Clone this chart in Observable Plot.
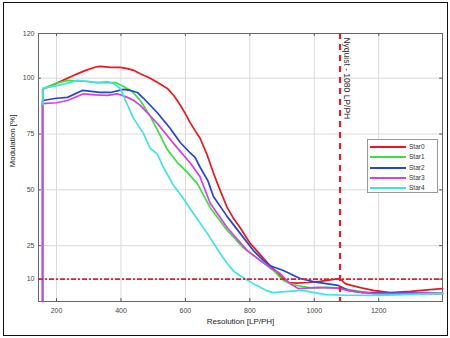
<!DOCTYPE html>
<html><head><meta charset="utf-8">
<script src="https://cdn.jsdelivr.net/npm/d3@7"></script>
<script src="https://cdn.jsdelivr.net/npm/@observablehq/plot@0.6"></script>
<style>
body{margin:0;background:#fff;font-family:"Liberation Sans",Arial,sans-serif;}
#wrap{position:relative;width:450px;height:338px;overflow:hidden;}
#border{position:absolute;left:3px;top:2px;width:445px;height:334px;border:1.6px solid #111;box-sizing:border-box;pointer-events:none;}
#legend{position:absolute;left:367px;top:139px;width:71px;height:54px;border:1px solid #999;background:#fff;box-sizing:border-box;font-size:6.5px;color:#333;}
#legend .row{position:absolute;left:0;height:10px;width:100%;}
#legend .ln{position:absolute;left:2px;width:36px;top:4px;height:2.2px;}
#legend .tx{position:absolute;left:41px;top:0;line-height:10px;}
</style></head><body>
<div id="wrap"><div id="chart"></div><div id="border"></div><div id="legend"></div></div>
<script>
const seriesNames = ["Star0", "Star1", "Star2", "Star3", "Star4"];
const seriesColors = ["#e8191e", "#3ee03e", "#2346d0", "#d93ee0", "#3ee6e0"];

const star0 = [[157,88],[157,95],[181,96.5],[220,99],[259,101.6],[290,103.5],[321,105],[336,105.3],[367,104.8],[398,104.8],[420,104.3],[439,103.5],[460,102],[491,100],[520,97.5],[544,95.4],[565,92],[584,88],[600,84],[615,80],[630,76.5],[646,73],[668,65.4],[687,57.5],[710,49],[730,42],[750,37],[770,33],[801,26],[832,21],[863,16],[879,13.9],[900,10.5],[919,8.5],[947,8.2],[980,8.5],[1018,9],[1060,9.9],[1080,10.2],[1096,8],[1121,7],[1150,6],[1183,5],[1235,4],[1300,4.5],[1350,5.2],[1398,5.8]];
const star1 = [[158,88],[158,95.4],[197,97.6],[234,99],[296,98.5],[330,98],[358,98],[383,98],[408,96.3],[435,94],[460,90],[491,83],[522,74.3],[544,68],[575,62.2],[606,57.8],[637,52.8],[677,42],[730,31.8],[780,24],[832,18.4],[873,13.9],[904,9.4],[935,7.5],[994,6],[1040,6.3],[1080,6],[1130,4.8],[1183,3.5],[1250,3.2],[1398,3.6]];
const star2 = [[157,0],[157,90],[200,91],[234,91.4],[280,94.5],[336,93.6],[367,93.6],[408,95],[430,94.5],[451,93.6],[470,91],[513,84.5],[553,77.5],[584,71.2],[615,66.5],[630,64.5],[646,60],[670,54],[687,47],[730,38],[770,30.5],[811,22.8],[842,18.4],[863,16],[904,13.9],[956,10.3],[1000,8.8],[1074,7.2],[1105,5],[1150,4],[1198,4],[1398,3.6]];
const star3 = [[156,0],[156,88.6],[200,89],[234,90],[284,93],[320,92.5],[358,92.3],[389,93],[420,91.4],[440,90],[460,87.8],[513,79.7],[563,70.8],[615,62],[645,56],[677,44],[730,33],[792,22.8],[832,18.4],[870,14.5],[894,12.5],[925,8],[950,5.8],[1009,6.3],[1071,6],[1120,4.5],[1183,3.6],[1398,3.6]];
const star4 = [[158,88],[158,95.4],[212,97],[265,99],[327,98],[358,98.5],[377,97.6],[398,95.4],[414,90],[439,82],[470,75.2],[491,68.5],[513,66],[532,60],[563,52],[594,46],[625,39.4],[668,30.5],[708,21.5],[730,17],[750,13.5],[770,11.5],[811,8],[850,5],[873,4],[920,4.5],[963,5],[1034,3.1],[1100,2.8],[1198,2.7],[1300,3.2],[1398,3.6]];
const seriesData = [star0, star1, star2, star3, star4];

const xTicks = [200, 400, 600, 800, 1000, 1200];
const yTicks = [10, 25, 50, 75, 100, 120];
const xDomain = [144, 1398];
const yDomain = [0, 120];
const nyquist = 1080;
const nyquistLabel = "Nyquist - 1080 LP/PH";
const threshold = 10;
const xLabel = "Resolution [LP/PH]";
const yLabel = "Modulation [%]";

const rows = [];
seriesData.forEach((arr, i) => arr.forEach(([x, y]) => rows.push({series: seriesNames[i], x, y})));

const tkY = 1.3, tkX = 9;
const plot = Plot.plot({
  width: 450, height: 338,
  marginLeft: 38, marginRight: 8, marginTop: 33, marginBottom: 37,
  style: {fontFamily: '"Liberation Sans", Arial, sans-serif', background: "transparent"},
  x: {domain: xDomain, ticks: xTicks},
  y: {domain: yDomain, ticks: yTicks},
  color: {domain: seriesNames, range: seriesColors},
  marks: [
    Plot.gridX(xTicks, {stroke: "#dadada", strokeOpacity: 1}),
    Plot.gridY(yTicks, {stroke: "#dadada", strokeOpacity: 1}),
    Plot.ruleX(xTicks, {x: d => d, y1: yDomain[0], y2: yDomain[0] + tkY, stroke: "#555"}),
    Plot.ruleX(xTicks, {x: d => d, y1: yDomain[1] - tkY, y2: yDomain[1], stroke: "#555"}),
    Plot.ruleY(yTicks, {y: d => d, x1: xDomain[0], x2: xDomain[0] + tkX, stroke: "#555"}),
    Plot.ruleY(yTicks, {y: d => d, x1: xDomain[1] - tkX, x2: xDomain[1], stroke: "#555"}),
    Plot.frame({stroke: "#666"}),
    Plot.axisX(xTicks, {tickSize: 0, tickPadding: 7, fontSize: 7, fill: "#444", label: null, tickFormat: d => String(d)}),
    Plot.axisY(yTicks, {tickSize: 0, tickPadding: 4, fontSize: 7, fill: "#444", label: null, tickFormat: d => String(d)}),
    Plot.text([xLabel], {frameAnchor: "bottom", dy: 22, fontSize: 8, fill: "#222", text: d => d}),
    Plot.text([yLabel], {frameAnchor: "left", dx: -26, rotate: -90, fontSize: 8, fill: "#222", text: d => d}),
    Plot.line(rows, {x: "x", y: "y", z: "series", stroke: "series", strokeWidth: 1.7, curve: "linear"}),
    Plot.ruleY([threshold], {stroke: "#e0202a", strokeWidth: 1.6, strokeDasharray: "5,2,2,2"}),
    Plot.ruleX([nyquist], {stroke: "#e0202a", strokeWidth: 2.2, strokeDasharray: "6,5"}),
    Plot.text([nyquistLabel], {x: nyquist, y: 118, rotate: 90, textAnchor: "start", lineAnchor: "middle", fontSize: 8.5, fill: "#333", text: d => d, render: (index, scales, values, dims, ctx, next) => {
      const g = next(index, scales, values, dims, ctx);
      g.setAttribute("transform", "translate(7,0)");
      return g;
    }})
  ]
});
document.getElementById("chart").appendChild(plot);

const lg = document.getElementById("legend");
seriesNames.forEach((n, i) => {
  const r = document.createElement("div");
  r.className = "row";
  r.style.top = (2 + i * 10.3) + "px";
  r.innerHTML = `<div class="ln" style="background:${seriesColors[i]}"></div><div class="tx">${n}</div>`;
  lg.appendChild(r);
});
</script>
</body></html>
